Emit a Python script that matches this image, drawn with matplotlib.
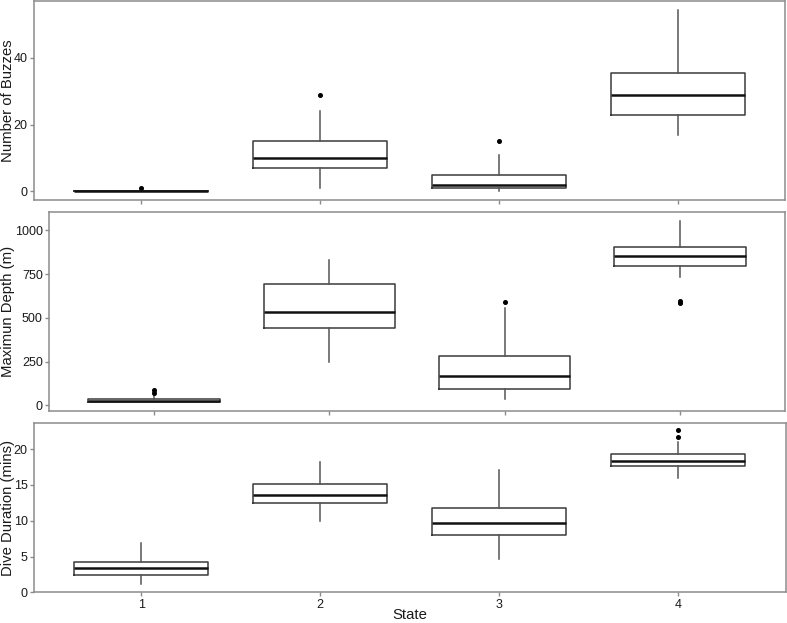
import numpy as np
import matplotlib.pyplot as plt

# === Valeurs ===
states = [1, 2, 3, 4]

buzz_q1 = [0, 7, 1, 23]
buzz_med = [0, 10, 2, 29]
buzz_q3 = [0, 15, 5, 35.6]
buzz_lo = [0, 1, 0, 17]
buzz_hi = [0, 24, 11, 54.4]
buzz_out = [[1], [29], [15], []]

depth_q1 = [19, 440, 95, 798]
depth_med = [27, 531, 170, 851]
depth_q3 = [38, 695, 280, 907]
depth_lo = [19, 248, 33, 735]
depth_hi = [50, 829, 558, 1055]
depth_out = [[72, 86], [], [589], [585, 596]]

dur_q1 = [2.45, 12.5, 8.05, 17.7]
dur_med = [3.4, 13.65, 9.75, 18.4]
dur_q3 = [4.2, 15.2, 11.75, 19.3]
dur_lo = [1.15, 9.9, 4.67, 16.0]
dur_hi = [6.85, 18.2, 17.1, 21.0]
dur_out = [[], [], [], [21.75, 22.7]]

plt.rcParams['font.family'] = ['Liberation Sans', 'DejaVu Sans']

W, H = 787, 623
fig = plt.figure(figsize=(W / 100, H / 100), dpi=100)


def px_axes(left, top, right, bottom):
    return fig.add_axes([left / W, 1 - bottom / H, (right - left) / W, (bottom - top) / H])


def draw_panel(ax, q1, med, q3, lo, hi, out, ylim, yticks, ylabel):
    stats = []
    for i in range(len(states)):
        stats.append(dict(med=med[i], q1=q1[i], q3=q3[i], whislo=lo[i],
                          whishi=hi[i], fliers=out[i]))
    ax.bxp(stats, positions=states, widths=0.75, showfliers=True,
           boxprops=dict(color='#3a3a3a', linewidth=1.1),
           medianprops=dict(color='#111111', linewidth=1.8),
           whiskerprops=dict(color='#555555', linewidth=1.1),
           capprops=dict(linewidth=0),
           flierprops=dict(marker='o', markersize=2.6, markerfacecolor='black',
                           markeredgecolor='black'))
    ax.set_xlim(0.4, 4.6)
    ax.set_ylim(*ylim)
    ax.set_yticks(yticks)
    ax.set_xticks(states)
    for s in ax.spines.values():
        s.set_color('#8c8c8c')
        s.set_linewidth(1.1)
    ax.tick_params(colors='#8c8c8c', length=3, width=1, labelsize=9,
                   labelcolor='#1a1a1a', pad=1.5)
    pos = ax.get_position()
    fig.text(8 / W, (pos.y0 + pos.y1) / 2, ylabel, rotation=90,
             ha='center', va='center', fontsize=10.7, color='#1a1a1a')


ax1 = px_axes(34, 1, 785, 200.3)
draw_panel(ax1, buzz_q1, buzz_med, buzz_q3, buzz_lo, buzz_hi, buzz_out,
           (-2.7, 57.1), [0, 20, 40], 'Number of Buzzes')
ax1.set_xticklabels([])

ax2 = px_axes(49, 211.7, 785, 411)
draw_panel(ax2, depth_q1, depth_med, depth_q3, depth_lo, depth_hi, depth_out,
           (-33, 1107), [0, 250, 500, 750, 1000], 'Maximun Depth (m)')
ax2.set_xticklabels([])

ax3 = px_axes(34, 422.7, 785.5, 592.3)
draw_panel(ax3, dur_q1, dur_med, dur_q3, dur_lo, dur_hi, dur_out,
           (0.05, 23.7), [0, 5, 10, 15, 20], 'Dive Duration (mins)')
ax3.set_xticklabels([str(s) for s in states])

pos3 = ax3.get_position()
fig.text((pos3.x0 + pos3.x1) / 2, 1 - 615 / H, 'State', ha='center', va='center',
         fontsize=10.7, color='#1a1a1a')

fig.savefig('out.png', dpi=100)
